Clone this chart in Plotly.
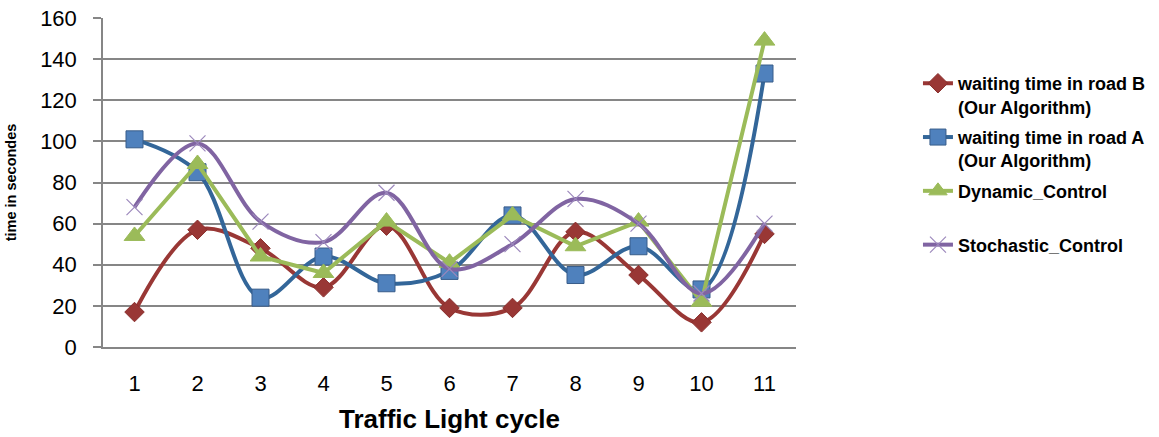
import plotly.graph_objects as go

cycles = ["1", "2", "3", "4", "5", "6", "7", "8", "9", "10", "11"]
road_b = [17, 57, 48, 29, 59, 19, 19, 56, 35, 12, 55]
road_a = [101, 85, 24, 44, 31, 37, 64, 35, 49, 28, 133]
dynamic = [54, 89, 44, 36, 61, 41, 64, 49, 61, 22, 149]
stochastic = [68, 99, 61, 51, 75, 38, 50, 72, 60, 26, 60]

names = [
    "waiting time in road B<br>(Our Algorithm)",
    "waiting time in road A<br>(Our Algorithm)",
    "Dynamic_Control<br>&nbsp;",
    "Stochastic_Control",
]

fig = go.Figure()
fig.add_trace(go.Scatter(
    x=cycles, y=road_b, name=names[0], mode="lines+markers", legendgroup="g1",
    line=dict(color="#993735", width=4, shape="spline", smoothing=1),
    marker=dict(symbol="diamond", size=15, color="#993735",
                line=dict(color="#8a2f2d", width=1)),
))
fig.add_trace(go.Scatter(
    x=cycles, y=road_a, name=names[1], mode="lines+markers", legendgroup="g2",
    line=dict(color="#336699", width=4, shape="spline", smoothing=1),
    marker=dict(symbol="square", size=17, color="#4F81BD",
                line=dict(color="#385D8A", width=1)),
))
fig.add_trace(go.Scatter(
    x=cycles, y=dynamic, name=names[2], mode="lines+markers", legendgroup="g3",
    line=dict(color="#9BBB59", width=4),
    marker=dict(symbol="triangle-up", size=18, color="#9BBB59",
                line=dict(color="#9BBB59", width=1)),
))
fig.add_trace(go.Scatter(
    x=cycles, y=stochastic, name=names[3], mode="lines+markers", legendgroup="g4",
    line=dict(color="#8064A2", width=4, shape="spline", smoothing=1),
    marker=dict(symbol="x-thin", size=16, color="#9C88BC",
                line=dict(color="#9C88BC", width=1.2)),
))

fig.update_layout(
    width=1159, height=437,
    margin=dict(l=103, r=363, t=18, b=90, autoexpand=False),
    paper_bgcolor="white", plot_bgcolor="white",
    font=dict(family="Liberation Sans", color="black"),
    showlegend=True,
    legend=dict(
        x=1.176, xanchor="left", y=0.857, yanchor="top",
        font=dict(family="Liberation Sans", size=18, color="black", weight="bold"),
        valign="top", tracegroupgap=4, borderwidth=0,
        bgcolor="rgba(0,0,0,0)",
    ),
    xaxis=dict(
        type="category", range=[-0.5, 10.5], automargin=False,
        showgrid=False, showline=True, linecolor="#868686", linewidth=2,
        ticks="", tickfont=dict(size=22, color="black"),
        ticklabelstandoff=16,
        title=dict(text="Traffic Light cycle",
                   font=dict(size=26, color="black", weight="bold"), standoff=14),
        zeroline=False,
    ),
    yaxis=dict(
        range=[0, 160], dtick=20, automargin=False,
        showgrid=True, gridcolor="#868686", gridwidth=1.5,
        showline=True, linecolor="#868686", linewidth=1.5,
        ticks="outside", ticklen=8, tickcolor="#868686", tickwidth=1.5,
        tickfont=dict(size=22, color="black"),
        ticklabelstandoff=12,
        title=dict(text="time in secondes",
                   font=dict(size=14.5, color="black", weight="bold"), standoff=20),
        zeroline=False,
    ),
)

fig.write_html("out.html", config={"displayModeBar": False},
               post_script="document.body.style.margin='0';")
